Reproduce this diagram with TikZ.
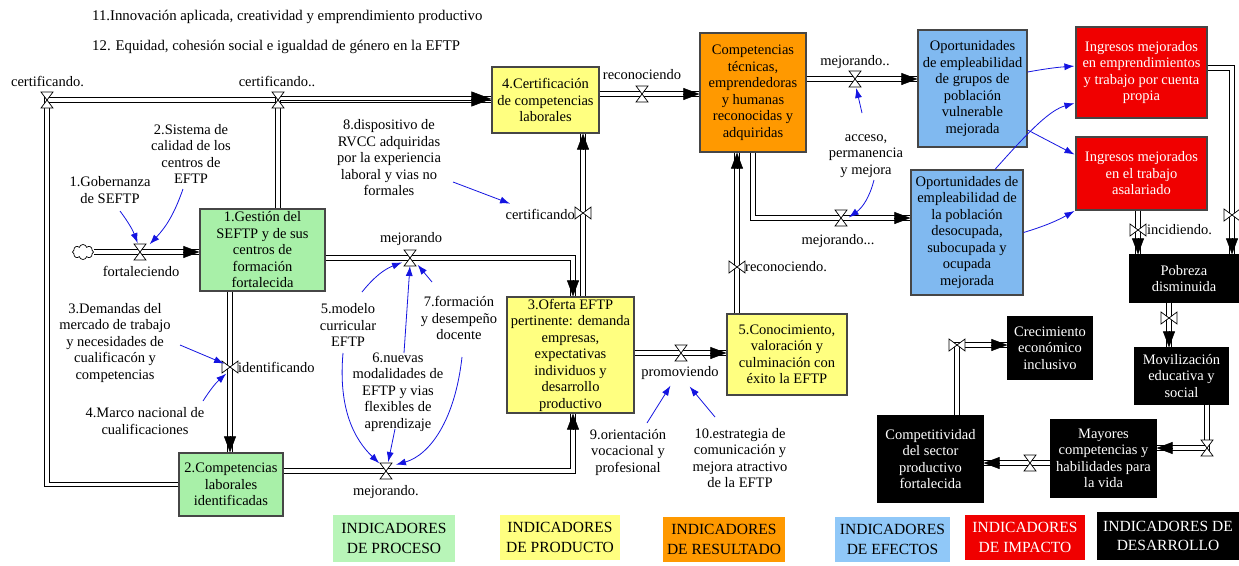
\documentclass[tikz,border=0pt]{standalone}
\usepackage{fontspec}
\setmainfont{Liberation Serif}
\usetikzlibrary{arrows.meta,shapes.symbols,calc}
\definecolor{gfill}{RGB}{168,240,168}
\definecolor{yfill}{RGB}{255,255,128}
\definecolor{ofill}{RGB}{255,153,0}
\definecolor{bfill}{RGB}{128,185,240}
\definecolor{rfill}{RGB}{240,0,0}
\definecolor{lgreen}{RGB}{184,245,184}
\definecolor{lblue}{RGB}{144,200,248}
\definecolor{infoblue}{RGB}{20,20,225}
\definecolor{bord}{RGB}{70,70,70}
\tikzset{
  txt/.style={font=\fontsize{14.5}{16.5}\selectfont, inner sep=0pt, align=center},
  boxbase/.style={txt, draw=bord, line width=1.2pt, inner sep=1pt},
  gbox/.style={boxbase, fill=gfill},
  ybox/.style={boxbase, fill=yfill},
  obox/.style={boxbase, fill=ofill},
  bbox/.style={boxbase, fill=bfill},
  rbox/.style={boxbase, fill=rfill, text=white},
  kbox/.style={boxbase, fill=black, draw=black, text=white},
  legend/.style={font=\fontsize{15.5}{19.5}\selectfont, inner sep=0pt, align=center},
  pipe/.style={draw=black, line width=0.9pt, double=white, double distance=3.6pt},
  tipst/.style={-{Triangle[length=16pt,width=12pt]}, line width=0.5pt, black},
  bigtip/.style={-{Triangle[length=20pt,width=15pt]}, line width=0.5pt, black},
  info/.style={draw=infoblue, line width=0.8pt, -{Latex[length=10pt,width=7pt]}, shorten >=1pt},
  valveH/.pic={\draw[fill=white, line width=0.7pt] (-6,-8) -- (6,-8) -- (-6,8) -- (6,8) -- cycle;},
  valveV/.pic={\draw[fill=white, line width=0.7pt] (-8,-6) -- (-8,6) -- (8,-6) -- (8,6) -- cycle;}
}
\newcommand\bx[7]{\node[#2, minimum width=#5pt, minimum height=#6pt] (#1) at (#3,#4) {#7};}
\begin{document}
\begin{tikzpicture}[x=1pt,y=-1pt]
\useasboundingbox (0,0) rectangle (1239,565);
\fill[white] (0,0) rectangle (1239,565);

% header texts
\node[txt, font=\fontsize{14.8}{16.5}\selectfont, anchor=west] (h11) at (92,17) {11.Innovación aplicada, creatividad y emprendimiento productivo};
\node[txt, font=\fontsize{14.8}{16.5}\selectfont, anchor=west] (h12) at (92,47) {12. Equidad, cohesión social e igualdad de género en la EFTP};

% boxes
\bx{b1}{gbox}{262.5}{250}{125}{82}{1.Gestión del\\SEFTP y de sus\\centros de\\formación\\fortalecida}
\bx{b2}{gbox}{231}{484.5}{104}{63}{2.Competencias\\laborales\\identificadas}
\bx{b4}{ybox}{545.5}{100}{107}{66}{4.Certificación\\de competencias\\laborales}
\bx{b3}{ybox}{570.5}{355}{127}{116}{3.Oferta EFTP\\pertinente: demanda\\empresas,\\expectativas\\individuos y\\desarrollo\\productivo}
\bx{b5}{ybox}{787}{354.5}{120}{81}{5.Conocimiento,\\valoración y\\culminación con\\éxito la EFTP}
\bx{or}{obox}{753}{92.5}{106}{119}{Competencias\\técnicas,\\emprendedoras\\y humanas\\reconocidas y\\adquiridas}
\bx{bl1}{bbox}{972.5}{88.5}{109}{117}{Oportunidades\\de empleabilidad\\de grupos de\\población\\vulnerable\\mejorada}
\bx{bl2}{bbox}{967}{232.5}{112}{125}{Oportunidades de\\empleabilidad de\\la población\\desocupada,\\subocupada y\\ocupada\\mejorada}
\bx{r1}{rbox}{1141.5}{72.5}{131}{91}{Ingresos mejorados\\en emprendimientos\\y trabajo por cuenta\\propia}
\bx{r2}{rbox}{1141.5}{173.5}{131}{73}{Ingresos mejorados\\en el trabajo\\asalariado}
\bx{pob}{kbox}{1184}{278.5}{108}{47}{Pobreza\\disminuida}
\bx{mov}{kbox}{1181.5}{376}{93}{56}{Movilización\\educativa y\\social}
\bx{may}{kbox}{1103.5}{458.5}{105}{77}{Mayores\\competencias y\\habilidades para\\la vida}
\bx{comp}{kbox}{930.5}{459}{105}{86}{Competitividad\\del sector\\productivo\\fortalecida}
\bx{crec}{kbox}{1050}{348}{84}{62}{Crecimiento\\económico\\inclusivo}

% cloud
\node[cloud, draw, cloud puffs=8, aspect=1.4, minimum width=21pt, minimum height=15pt, inner sep=0pt, line width=0.7pt] (cl) at (83,252) {};

% valve and corner coordinates
\coordinate (v1) at (140,252);
\coordinate (v2) at (410,258);
\coordinate (k2) at (573,258);
\coordinate (v3) at (230,367);
\coordinate (v4) at (386,471);
\coordinate (k4) at (573,471);
\coordinate (v5) at (47,100);
\coordinate (v6) at (278,100);
\coordinate (v7) at (583,213);
\coordinate (v8) at (642,94);
\coordinate (v9) at (681,353);
\coordinate (v10) at (737,267);
\coordinate (v11) at (855,79);
\coordinate (k12) at (753,218);
\coordinate (v12) at (841,218);
\coordinate (v13) at (1138,230);
\coordinate (k14) at (1232,68);
\coordinate (v14) at (1232,215);
\coordinate (v15) at (1169,318);
\coordinate (v16) at (1207,448);
\coordinate (v17) at (1030,463);
\coordinate (v18) at (957,345);

% pipes (flows)
\draw[pipe] (cl.east |- v1) -- (b1.west |- v1);
\draw[tipst] ($(b1.west |- v1)+(-16,0)$) -- (b1.west |- v1);

\draw[pipe] (b1.east |- v2) -- (k2) -- (k2 |- b3.north);
\draw[tipst] ($(k2 |- b3.north)+(0,-16)$) -- (k2 |- b3.north);

\draw[pipe] (b1.south -| v3) -- (b2.north -| v3);
\draw[tipst] ($(b2.north -| v3)+(0,-16)$) -- (b2.north -| v3);

\draw[pipe] (b2.east |- v4) -- (k4) -- (k4 |- b3.south);
\draw[tipst] ($(k4 |- b3.south)+(0,16)$) -- (k4 |- b3.south);

\draw[pipe] (b2.west) -| (v5) -- (v6) -- (b4.west |- v6);
\draw[pipe] (b1.north -| v6) -- ([yshift=1.6pt]v6) -- ([yshift=1.6pt]b4.west |- v6);
\draw[bigtip] ($(b4.west |- v6)+(-20,-1)$) -- ($(b4.west |- v6)+(0,-1)$);

\draw[pipe] (b3.north -| v7) -- (b4.south -| v7);
\draw[tipst] ($(b4.south -| v7)+(0,16)$) -- (b4.south -| v7);

\draw[pipe] (b4.east |- v8) -- (or.west |- v8);
\draw[tipst] ($(or.west |- v8)+(-16,0)$) -- (or.west |- v8);

\draw[pipe] (b3.east |- v9) -- (b5.west |- v9);
\draw[tipst] ($(b5.west |- v9)+(-16,0)$) -- (b5.west |- v9);

\draw[pipe] (b5.north -| v10) -- (or.south -| v10);
\draw[tipst] ($(or.south -| v10)+(0,16)$) -- (or.south -| v10);

\draw[pipe] (or.east |- v11) -- (bl1.west |- v11);
\draw[tipst] ($(bl1.west |- v11)+(-16,0)$) -- (bl1.west |- v11);

\draw[pipe] (or.south -| k12) -- (k12) -- (bl2.west |- k12);
\draw[tipst] ($(bl2.west |- k12)+(-16,0)$) -- (bl2.west |- k12);

\draw[pipe] (r2.south -| v13) -- (pob.north -| v13);
\draw[tipst] ($(pob.north -| v13)+(0,-16)$) -- (pob.north -| v13);

\draw[pipe] (r1.east |- k14) -- (k14) -- (pob.north -| k14);
\draw[tipst] ($(pob.north -| k14)+(0,-16)$) -- (pob.north -| k14);

\draw[pipe] (pob.south -| v15) -- (mov.north -| v15);
\draw[tipst] ($(mov.north -| v15)+(0,-16)$) -- (mov.north -| v15);

\draw[pipe] (mov.south -| v16) -- (v16) -- (may.east |- v16);
\draw[tipst] ($(may.east |- v16)+(16,0)$) -- (may.east |- v16);

\draw[pipe] (may.west |- v17) -- (comp.east |- v17);
\draw[tipst] ($(comp.east |- v17)+(16,0)$) -- (comp.east |- v17);

\draw[pipe] (comp.north -| v18) -- (v18) -- (crec.west |- v18);
\draw[tipst] ($(crec.west |- v18)+(-16,0)$) -- (crec.west |- v18);

% valves
\foreach \v in {v1,v2,v4,v5,v6,v8,v9,v11,v12,v16,v17} \pic at (\v) {valveH};
\foreach \v in {v3,v7,v10,v13,v14,v15,v18} \pic at (\v) {valveV};

% flow labels
\node[txt] (lc1) at (47.5,81) {certificando.};
\node[txt] (lc2) at (277,81) {certificando..};
\node[txt] (lfo) at (141,271) {fortaleciendo};
\node[txt] (lme1) at (411,239) {mejorando};
\node[txt, anchor=west] (lid) at (238,367) {identificando};
\node[txt] (lme2) at (386,492) {mejorando.};
\node[txt, anchor=east] (lce) at (575,214) {certificando};
\node[txt] (lre) at (642,75) {reconociendo};
\node[txt] (lpr) at (680,373) {promoviendo};
\node[txt, anchor=west] (lre2) at (745,267) {reconociendo.};
\node[txt] (lme3) at (855,62) {mejorando..};
\node[txt] (lme4) at (838,241) {mejorando...};
\node[txt, anchor=west] (linc) at (1147,230) {incidiendo.};

% auxiliary variables
\node[txt] (x1) at (110,190) {1.Gobernanza\\de SEFTP};
\node[txt] (x2) at (191,154) {2.Sistema de\\calidad de los\\centros de\\EFTP};
\node[txt] (x3) at (115,343) {3.Demandas del\\mercado de trabajo\\y necesidades de\\cualificacón y\\competencias};
\node[txt] (x4) at (145,421) {4.Marco nacional de\\cualificaciones};
\node[txt] (x5) at (348,325) {5.modelo\\curricular\\EFTP};
\node[txt] (x6) at (398,392) {6.nuevas\\modalidades de\\EFTP y vias\\flexibles de\\aprendizaje};
\node[txt] (x7) at (459,318) {7.formación\\y desempeño\\docente};
\node[txt] (x8) at (389,158) {8.dispositivo de\\RVCC adquiridas\\por la experiencia\\laboral y vias no\\formales};
\node[txt] (x9) at (628,452) {9.orientación\\vocacional y\\profesional};
\node[txt] (x10) at (740,458) {10.estrategia de\\comunicación y\\mejora atractivo\\de la EFTP};
\node[txt] (xac) at (866,156) {acceso,\\permanencia\\y mejora};

% information arrows
\coordinate (s1) at (120,211);
\coordinate (s2) at (183,189);
\coordinate (s3) at (180,345);
\coordinate (s4) at (203,401);
\coordinate (s5) at (362,292);
\coordinate (s5b) at (343,353);
\coordinate (s6) at (404,353);
\coordinate (s6b) at (395,429);
\coordinate (s7) at (432,282);
\coordinate (s7b) at (462,357);
\coordinate (s8) at (453,182);
\coordinate (s9) at (647,423);
\coordinate (s10) at (715,417);
\coordinate (sa) at (862,113);
\coordinate (sb) at (874,180);
\coordinate (e8) at (511,204);

\draw[info] (s1) to[bend left=8] ([shift={(-2,-8)}]v1);
\draw[info] (s2) to[bend left=12] ([shift={(9,-7)}]v1);
\draw[info] (s3) -- ([shift={(-5,-3)}]v3);
\draw[info] (s4) to[bend left=8] ([shift={(-3,6)}]v3);
\draw[info] (s5) to[bend left=15] ([shift={(-7,4)}]v2);
\draw[info] (s6) -- ([shift={(0,7)}]v2);
\draw[info] (s7) -- ([shift={(7,6)}]v2);
\draw[info] (s5b) .. controls (338,410) and (355,440) .. ([shift={(-6,-7)}]v4);
\draw[info] (s6b) -- ([shift={(2,-8)}]v4);
\draw[info] (s7b) .. controls (455,420) and (430,455) .. ([shift={(9,-6)}]v4);
\draw[info] (s8) -- (e8);
\draw[info] (s9) -- ([shift={(-9,5)}]lpr.south);
\draw[info] (s10) -- ([shift={(9,6)}]lpr.south);
\draw[info] (sa) -- ([shift={(1,8)}]v11);
\draw[info] (sb) to[bend left=20] ([shift={(7,0)}]v12);
\draw[info] ([yshift=16.5pt]bl1.east) to[bend left=3] ([yshift=6.5pt]r1.west);
\draw[info] ([yshift=-41.5pt]bl1.east) -- ([yshift=18.5pt]r2.west);
\draw[info] ([xshift=28pt]bl2.north) .. controls (1030,130) and (1050,110) .. ([yshift=-30.5pt]r1.west);
\draw[info] (bl2.east) to[bend right=6] ([yshift=-37pt]r2.west);

% legend
\node[legend, fill=lgreen, minimum width=122pt, minimum height=47pt] (lg1) at (394,538.5) {INDICADORES\\DE PROCESO};
\node[legend, fill=yfill, minimum width=120pt, minimum height=45pt] (lg2) at (560,537.5) {INDICADORES\\DE PRODUCTO};
\node[legend, fill=ofill, minimum width=122pt, minimum height=45pt] (lg3) at (724,539.5) {INDICADORES\\DE RESULTADO};
\node[legend, fill=lblue, minimum width=115pt, minimum height=45pt] (lg4) at (892.5,539.5) {INDICADORES\\DE EFECTOS};
\node[legend, fill=rfill, text=white, minimum width=120pt, minimum height=45pt] (lg5) at (1025,537.5) {INDICADORES\\DE IMPACTO};
\node[legend, fill=black, text=white, minimum width=142pt, minimum height=48pt] (lg6) at (1168,536) {INDICADORES DE\\DESARROLLO};
\end{tikzpicture}
\end{document}
